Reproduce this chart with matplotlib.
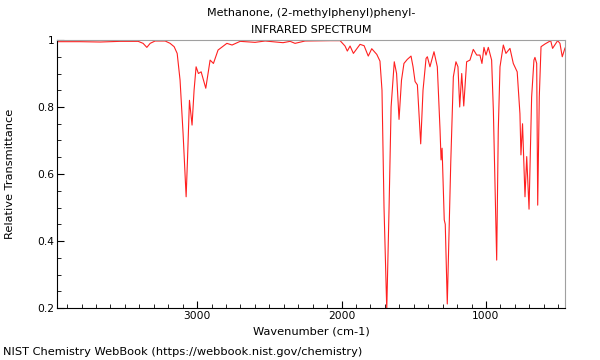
import matplotlib
matplotlib.use("Agg")
import matplotlib.pyplot as plt
from matplotlib.ticker import MultipleLocator

# spectrum (wavenumber cm-1, relative transmittance)
wavenumber = [3966, 3810, 3671, 3533, 3408, 3374, 3348, 3325, 3291, 3221,
              3187, 3159, 3138, 3118, 3097, 3076, 3066, 3053, 3035, 3021,
              3007, 2991, 2972, 2940, 2910, 2887, 2855, 2794, 2758, 2702,
              2599, 2529, 2405, 2356, 2322, 2253, 2080, 2010, 1976, 1960,
              1941, 1918, 1872, 1844, 1815, 1791, 1756, 1734, 1720, 1706,
              1687, 1671, 1657, 1635, 1619, 1602, 1585, 1568, 1545, 1519,
              1505, 1491, 1475, 1452, 1436, 1415, 1406, 1388, 1360, 1337,
              1318, 1311, 1304, 1289, 1282, 1268, 1244, 1226, 1208, 1194,
              1182, 1168, 1154, 1134, 1111, 1088, 1064, 1042, 1028, 1014,
              1000, 984, 961, 949, 926, 915, 903, 880, 862, 834,
              811, 784, 765, 758, 747, 730, 718, 702, 684, 668,
              661, 649, 642, 631, 619, 592, 552, 539, 504, 488,
              472, 453]
transmittance = [0.995, 0.995, 0.994, 0.996, 0.996, 0.99, 0.978, 0.99, 0.997, 0.997,
                 0.99, 0.98, 0.96, 0.88, 0.72, 0.532, 0.65, 0.82, 0.746, 0.85,
                 0.92, 0.90, 0.905, 0.856, 0.94, 0.93, 0.97, 0.99, 0.985, 0.996,
                 0.993, 0.997, 0.992, 0.996, 0.99, 0.997, 0.998, 0.998, 0.982, 0.967,
                 0.982, 0.96, 0.987, 0.983, 0.952, 0.974, 0.957, 0.937, 0.85, 0.5,
                 0.195, 0.5, 0.8, 0.935, 0.9, 0.763, 0.88, 0.93, 0.942, 0.952,
                 0.92, 0.876, 0.866, 0.69, 0.85, 0.945, 0.95, 0.92, 0.965, 0.92,
                 0.73, 0.642, 0.677, 0.463, 0.45, 0.212, 0.633, 0.89, 0.935, 0.92,
                 0.80, 0.90, 0.803, 0.935, 0.94, 0.972, 0.955, 0.955, 0.93, 0.978,
                 0.955, 0.978, 0.94, 0.79, 0.343, 0.73, 0.92, 0.985, 0.96, 0.975,
                 0.93, 0.905, 0.78, 0.657, 0.75, 0.532, 0.652, 0.495, 0.83, 0.94,
                 0.948, 0.93, 0.507, 0.83, 0.98, 0.988, 0.998, 0.975, 0.998, 0.99,
                 0.95, 0.976]

y_ticks = [0.2, 0.4, 0.6, 0.8, 1.0]
y_tick_labels = ["0.2", "0.4", "0.6", "0.8", "1"]
x_ticks = [1000, 2000, 3000]

fig = plt.figure(figsize=(6, 3.6), dpi=100)
ax = fig.add_axes([57 / 600, 1 - 308 / 360, 508 / 600, 268 / 360])

ax.plot(wavenumber, transmittance, color="#ff2020", linewidth=0.8)

ax.set_xlim(3970, 453)
ax.set_ylim(0.2, 1.0)

ax.set_xticks(x_ticks)
ax.xaxis.set_minor_locator(MultipleLocator(100))
ax.set_yticks(y_ticks)
ax.set_yticklabels(y_tick_labels)
ax.yaxis.set_minor_locator(MultipleLocator(0.05))
ax.tick_params(which="both", direction="in", top=False, right=False, labelsize=7.7, pad=2)
ax.tick_params(which="major", length=5)
ax.tick_params(which="minor", length=3)

ax.spines["top"].set_color("#a0a0a0")
ax.spines["right"].set_color("#a0a0a0")

ax.set_xlabel("Wavenumber (cm-1)", fontsize=8.2)
ax.set_ylabel("Relative Transmittance", fontsize=8.2)
ax.xaxis.set_label_coords(0.5, -(331 - 308) / 268, transform=ax.transAxes)
ax.yaxis.set_label_coords(-(57 - 10) / 508, 0.5, transform=ax.transAxes)
ax.xaxis.label.set_va("center")
ax.yaxis.label.set_va("center")

fig.text(311 / 600, 1 - 13 / 360, "Methanone, (2-methylphenyl)phenyl-", ha="center", va="center", fontsize=8)
fig.text(311 / 600, 1 - 30 / 360, "INFRARED SPECTRUM", ha="center", va="center", fontsize=8)
fig.text(3 / 600, 1 - 352 / 360, "NIST Chemistry WebBook (https://webbook.nist.gov/chemistry)", ha="left", va="center", fontsize=8.2)

fig.savefig("out.png", dpi=100)
